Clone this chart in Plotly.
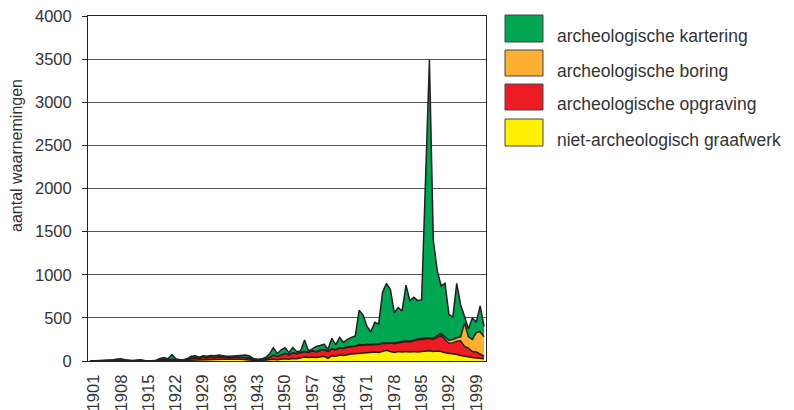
import plotly.graph_objects as go

years = list(range(1900, 2002))

# niet-archeologisch graafwerk (bottom layer)
graafwerk = [0, 0, 0, 1, 1, 1, 2, 3, 3, 2,
             1, 1, 2, 2, 1, 0, 0, 2, 5, 6,
             4, 5, 4, 2, 2, 5, 10, 12, 8, 15,
             12, 20, 15, 22, 20, 20, 22, 20, 22, 20,
             15, 10, 5, 3, 5, 10, 15, 20, 15, 20,
             25, 20, 30, 25, 35, 45, 40, 45, 40, 50,
             55, 30, 60, 55, 70, 65, 75, 80, 85, 90,
             95, 100, 100, 105, 100, 110, 125, 110, 100, 110,
             105, 110, 105, 110, 105, 110, 115, 120, 110, 115,
             110, 95, 90, 85, 75, 65, 55, 45, 40, 35,
             30, 25]
# archeologische opgraving
opgraving = [0, 1, 1, 1, 1, 2, 4, 7, 9, 6,
             2, 2, 4, 6, 2, 1, 1, 3, 10, 14,
             8, 15, 8, 6, 6, 13, 25, 28, 22, 30,
             26, 28, 27, 28, 25, 22, 20, 25, 26, 25,
             25, 25, 10, 7, 7, 15, 25, 50, 40, 50,
             65, 50, 65, 60, 65, 65, 60, 70, 65, 75,
             75, 80, 80, 75, 80, 80, 85, 85, 85, 95,
             85, 90, 85, 90, 90, 95, 75, 100, 100, 100,
             110, 115, 115, 125, 140, 140, 140, 140, 140, 160,
             190, 155, 115, 125, 155, 170, 115, 105, 70, 70,
             50, 30]
# archeologische boring
boring = [0, 0, 0, 0, 0, 0, 0, 0, 0, 0,
          0, 0, 0, 0, 0, 0, 0, 0, 0, 0,
          0, 0, 0, 0, 0, 0, 0, 0, 0, 0,
          0, 0, 0, 0, 0, 0, 0, 3, 0, 0,
          0, 0, 0, 0, 0, 0, 0, 0, 0, 0,
          0, 2, 0, 3, 2, 2, 2, 3, 3, 3,
          2, 2, 2, 2, 5, 5, 5, 5, 5, 5,
          5, 5, 5, 5, 5, 5, 10, 5, 10, 10,
          10, 10, 10, 10, 10, 10, 10, 10, 15, 20,
          20, 30, 35, 40, 40, 45, 270, 130, 140, 225,
          260, 225]
# archeologische kartering (top layer)
kartering = [0, 1, 2, 2, 3, 5, 9, 12, 13, 7,
             3, 2, 6, 7, 3, 2, 2, 5, 15, 20,
             13, 55, 13, 7, 7, 12, 20, 20, 15, 15,
             17, 17, 18, 20, 15, 13, 13, 12, 17, 20,
             30, 20, 10, 10, 13, 15, 40, 85, 30, 60,
             65, 23, 63, 20, 18, 131, 14, 22, 62, 52,
             63, 23, 121, 58, 119, 65, 85, 104, 115, 400,
             348, 205, 150, 250, 235, 590, 690, 615, 350, 400,
             355, 645, 470, 495, 445, 450, 1935, 3220, 1135, 755,
             550, 620, 300, 260, 630, 370, 80, 90, 250, 120,
             300, 120]

y_ticks = [0, 500, 1000, 1500, 2000, 2500, 3000, 3500, 4000]
x_ticks = list(range(1901, 2000, 7))

series = [
    ("niet-archeologisch graafwerk", graafwerk, "#fff200"),
    ("archeologische opgraving", opgraving, "#ed1c24"),
    ("archeologische boring", boring, "#fbb034"),
    ("archeologische kartering", kartering, "#00a651"),
]

FONT = "Liberation Sans, Arial, sans-serif"
TXT = "#333333"

fig = go.Figure()
for name, vals, col in series:
    fig.add_trace(go.Scatter(
        x=years, y=vals, name=name, mode="lines",
        stackgroup="one", fillcolor=col,
        line=dict(color="#231f20", width=1.5),
        showlegend=False,
    ))

# plot area in page pixels (page has an 8px body margin)
OFF = 8
L, R, T, B = 88, 486, 16, 361
W, H = 794, 410

def px(x):
    return (x - L) / (R - L)

def py(y):
    return (B - y) / (B - T)

shapes = []
annotations = []
legend_rows = [
    ("archeologische kartering", "#00a651", 15, 42),
    ("archeologische boring", "#fbb034", 50, 76),
    ("archeologische opgraving", "#ed1c24", 84, 110),
    ("niet-archeologisch graafwerk", "#fff200", 119, 146),
]
for label, col, y0, y1 in legend_rows:
    shapes.append(dict(type="rect", xref="paper", yref="paper",
                       x0=px(505), x1=px(543), y0=py(y1), y1=py(y0),
                       fillcolor=col, line=dict(color="#444444", width=1)))
    annotations.append(dict(xref="paper", yref="paper", x=px(555), y=py((y0 + y1) / 2 + 7.5),
                            xanchor="left", yanchor="middle", showarrow=False,
                            text=label, font=dict(family=FONT, size=17.5, color=TXT)))

annotations.append(dict(xref="paper", yref="paper", x=px(16), y=py(156),
                        xanchor="center", yanchor="middle", showarrow=False,
                        textangle=-90, text="aantal waarnemingen",
                        font=dict(family=FONT, size=16, color=TXT)))

fig.update_layout(
    width=W, height=H,
    margin=dict(l=L - OFF, r=W - R + OFF, t=T - OFF, b=H - B + OFF, autoexpand=False),
    paper_bgcolor="white", plot_bgcolor="white",
    font=dict(family=FONT, size=16, color=TXT),
    showlegend=False,
    shapes=shapes, annotations=annotations,
    xaxis=dict(range=[1899.5, 2001.5], tickvals=x_ticks,
               ticktext=[str(t) for t in x_ticks], tickangle=-90,
               showgrid=False, zeroline=False, showline=True,
               linecolor="#222222", linewidth=1, mirror=True,
               ticks="", ticklabelstandoff=6, automargin=False,
               ticklabeloverflow="allow",
               tickfont=dict(size=16.5, color=TXT)),
    yaxis=dict(range=[0, 4000], tickvals=y_ticks,
               showgrid=True, gridcolor="#555555", gridwidth=1,
               zeroline=False, showline=True, linecolor="#222222",
               linewidth=1, mirror=True, ticks="outside", ticklen=5,
               tickcolor="#222222", ticklabelstandoff=7, automargin=False,
               ticklabeloverflow="allow",
               tickfont=dict(size=16.5, color=TXT)),
)

fig.write_html("out.html")
